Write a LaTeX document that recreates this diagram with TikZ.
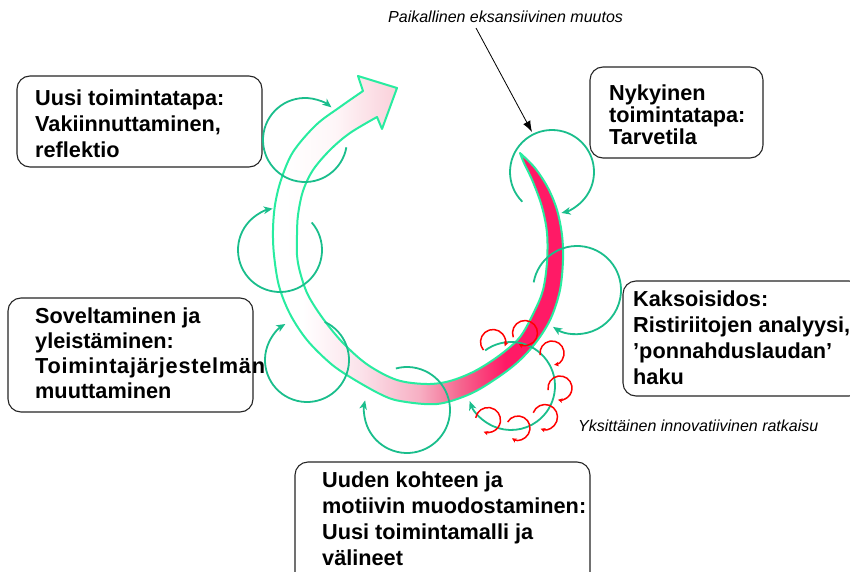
\documentclass[tikz,border=0pt]{standalone}
\usepackage{fontspec}
\setmainfont{Liberation Sans}
\usetikzlibrary{arrows.meta}
\definecolor{ringgreen}{RGB}{40,236,160}
\definecolor{cycgreen}{RGB}{26,190,140}
\definecolor{crim}{RGB}{255,26,102}
\definecolor{pinkA}{RGB}{251,226,234}
\definecolor{pinkB}{RGB}{247,176,196}
\definecolor{pinkC}{RGB}{244,104,144}
\definecolor{pinkW}{RGB}{254,246,248}
\definecolor{pinkD}{RGB}{250,208,218}
\pgfdeclarehorizontalshading{ringA}{100bp}{color(0bp)=(white); color(30bp)=(white); color(40bp)=(pinkA); color(50bp)=(pinkB); color(57bp)=(pinkC); color(65bp)=(crim); color(100bp)=(crim)}
\pgfdeclarehorizontalshading{ringB}{100bp}{color(0bp)=(white); color(30bp)=(white); color(50bp)=(pinkW); color(75bp)=(pinkD); color(100bp)=(pinkD)}
\begin{document}
\begin{tikzpicture}[x=1pt,y=-1pt,
  ringline/.style={draw=ringgreen, line width=2pt, line join=round},
  cyc/.style={draw=cycgreen, line width=1.8pt, -{Stealth[length=9pt,width=7.5pt,inset=2.5pt]}},
  redloop/.style={draw=red, line width=1.5pt, -{Stealth[length=4.5pt,width=4.5pt,inset=1.2pt]}},
  boxframe/.style={draw=black!85, line width=1.1pt, rounded corners=13pt, inner sep=0pt},
  boxtext/.style={anchor=north west, inner sep=0pt, align=left, font=\bfseries\fontsize{21.7}{26}\selectfont},
  lbl/.style={anchor=base west, inner sep=0pt, font=\itshape\fontsize{16}{19}\selectfont}]
\fill[white] (0,0) rectangle (850,572);
\useasboundingbox (0,0) rectangle (850,572);

% boxes
\node[boxframe, minimum width=245pt, minimum height=91pt] (b1) at (139.5,121.5) {};
\node[boxtext] (t1) at (35,85) {\rule{0pt}{20pt}Uusi toimintatapa:\\Vakiinnuttaminen,\\reflektio};
\node[boxframe, minimum width=245pt, minimum height=114pt] (b2) at (130.5,355) {};
\node[boxtext, font=\bfseries\fontsize{21.7}{25}\selectfont] (t2) at (35,303) {\rule{0pt}{20pt}Soveltaminen ja\\yleistäminen:\\{\addfontfeature{LetterSpace=3.5}Toimintajärjestelmän}\\muuttaminen};
\node[boxframe, minimum width=173pt, minimum height=91pt] (b3) at (676.5,112.5) {};
\node[boxtext, font=\bfseries\fontsize{21.7}{22}\selectfont] (t3) at (609,80) {\rule{0pt}{20pt}Nykyinen\\toimintatapa:\\Tarvetila};
\node[boxframe, minimum width=239pt, minimum height=115pt] (b4) at (742.5,338.5) {};
\node[boxtext] (t4) at (633,286) {\rule{0pt}{20pt}Kaksoisidos:\\Ristiriitojen analyysi,\\’ponnahduslaudan’\\haku};
\node[boxframe, minimum width=295pt, minimum height=123pt] (b5) at (442.5,523.5) {};
\node[boxtext] (t5) at (322,467) {\rule{0pt}{20pt}Uuden kohteen ja\\motiivin muodostaminen:\\Uusi toimintamalli ja\\välineet};

% ring fill, lower part
\shade[shading=ringA] plot[smooth,tension=0.55] coordinates {(520,153) (535,168) (548,188) (557,210) (562,235) (563,260) (560,290) (551,318) (537,341) (519,361) (497,378) (470,394) (437,404) (400,401) (380,394) (350,377) (330,363) (307,340) (290,314) (279,286) (274,255)}
  -- plot[smooth,tension=0.55] coordinates {(297,255) (300,272) (308,295) (324,320) (344,344) (368,365) (397,380) (427,384) (450,381) (475,371) (500,355) (520,337) (534,312) (543,290) (547,262) (547,233) (542,207) (533,182) (524,163) (520,153)} -- cycle;
% ring fill, upper arrow part
\shade[shading=ringB] plot[smooth,tension=0.55] coordinates {(274,255) (273,230) (275,205) (281,180) (293,152) (316,125) (340,107) (363,91)}
  -- (358,76) -- (397,88) -- (382,129)
  -- plot[smooth,tension=0.55] coordinates {(377,117) (350,133) (330,150) (313,170) (303,191) (298,215) (297,235) (297,255)} -- cycle;
% ring outline
\draw[ringline] plot[smooth,tension=0.55] coordinates {(520,153) (535,168) (548,188) (557,210) (562,235) (563,260) (560,290) (551,318) (537,341) (519,361) (497,378) (470,394) (437,404) (400,401) (380,394) (350,377) (330,363) (307,340) (290,314) (279,286) (274,255) (273,230) (275,205) (281,180) (293,152) (316,125) (340,107) (363,91)}
  -- (358,76) -- (397,88) -- (382,129)
  -- plot[smooth,tension=0.55] coordinates {(377,117) (350,133) (330,150) (313,170) (303,191) (298,215) (297,235) (297,255) (300,272) (308,295) (324,320) (344,344) (368,365) (397,380) (427,384) (450,381) (475,371) (500,355) (520,337) (534,312) (543,290) (547,262) (547,233) (542,207) (533,182) (524,163) (520,153)} -- cycle;

% green cycles
\draw[cyc] ([shift={(-10:42pt)}]305,140) arc[start angle=-10, end angle=-309, radius=42pt];
\draw[cyc] ([shift={(41:42pt)}]280,250) arc[start angle=41, end angle=-260, radius=42pt];
\draw[cyc] ([shift={(65:42pt)}]307,360) arc[start angle=65, end angle=-239, radius=42pt];
\draw[cyc] ([shift={(105:43pt)}]407,410) arc[start angle=105, end angle=-193, radius=43pt];
\draw[cyc] ([shift={(126:44pt)}]511,386) arc[start angle=126, end angle=-160, radius=44pt];
\draw[cyc] ([shift={(170:44pt)}]577,290) arc[start angle=170, end angle=-123, radius=44pt];
\draw[cyc] ([shift={(225:42pt)}]552,172) arc[start angle=225, end angle=-77, radius=42pt];

% red loops
\draw[redloop] ([shift={(220:12.5pt)}]493,342) arc[start angle=220, end angle=-20, radius=12.5pt];
\draw[redloop] ([shift={(200:12.5pt)}]525,333) arc[start angle=200, end angle=-120, radius=12.5pt];
\draw[redloop] ([shift={(190:12pt)}]552,353) arc[start angle=190, end angle=-80, radius=12pt];
\draw[redloop] ([shift={(190:12pt)}]560,388) arc[start angle=190, end angle=-100, radius=12pt];
\draw[redloop] ([shift={(160:12.5pt)}]545,417) arc[start angle=160, end angle=-110, radius=12.5pt];
\draw[redloop] ([shift={(150:12pt)}]518,428) arc[start angle=150, end angle=-120, radius=12pt];
\draw[redloop] ([shift={(170:12.5pt)}]488,420) arc[start angle=170, end angle=-110, radius=12.5pt];

% labels and pointer
\node[lbl] (lblTop) at (388,23) {Paikallinen eksansiivinen muutos};
\node[lbl] (lblY) at (578,431) {Yksittäinen innovatiivinen ratkaisu};
\coordinate (pa) at (476,28);
\coordinate (pb) at (532,132);
\draw[line width=0.8pt, -{Latex[length=11pt,width=8pt]}] (pa) -- (pb);
\end{tikzpicture}
\end{document}
